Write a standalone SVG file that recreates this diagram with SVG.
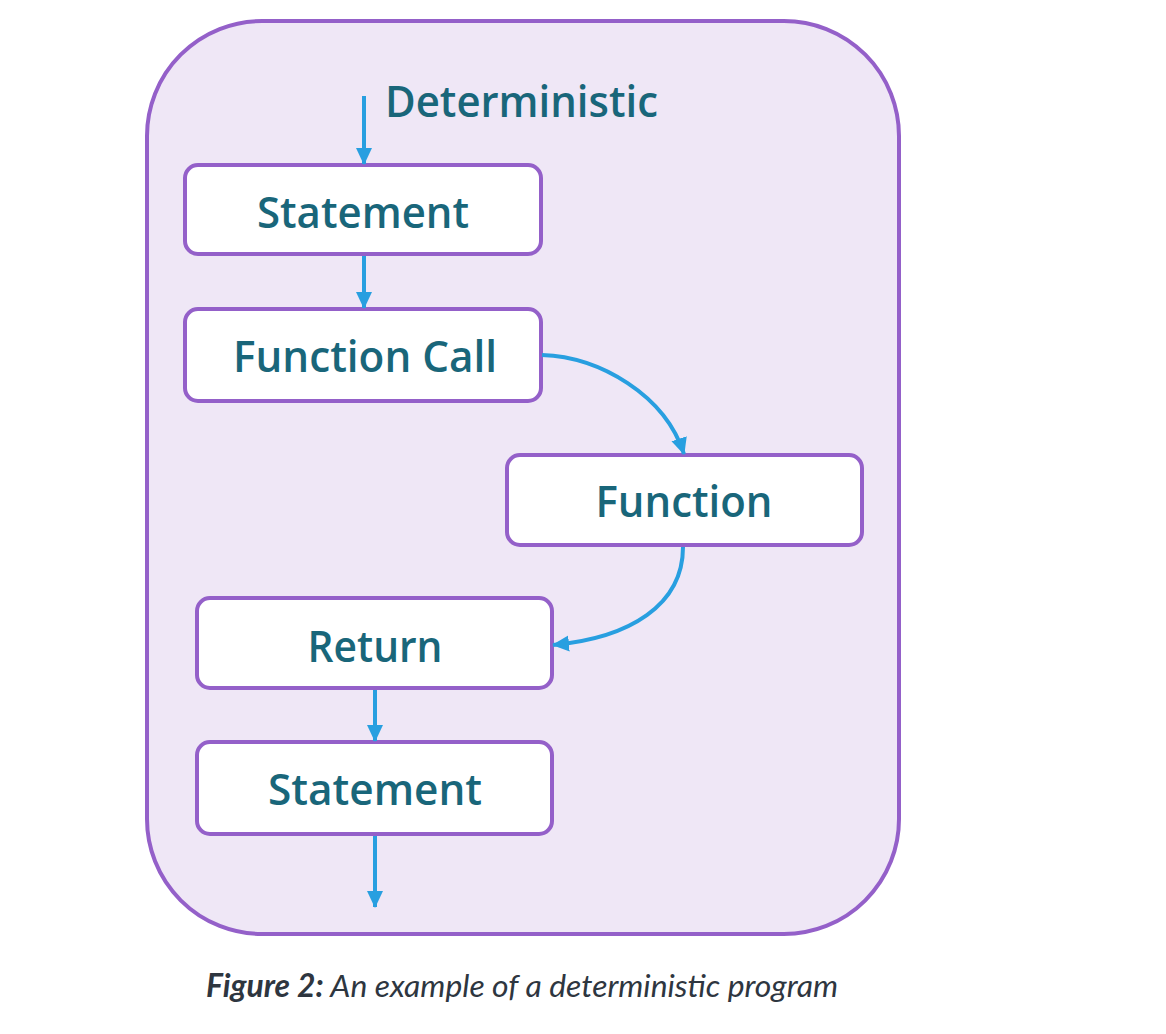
<svg xmlns="http://www.w3.org/2000/svg" width="1166" height="1034" viewBox="0 0 1166 1034">
<defs>
<marker id="ah" markerUnits="userSpaceOnUse" markerWidth="18" markerHeight="18" viewBox="0 0 18 18" refX="16" refY="9" orient="auto">
<path d="M0,1 L17,9 L0,17 Z" fill="#289fe0"/>
</marker>
</defs>
<style>
.node rect{fill:#ffffff;stroke:#9460c9;stroke-width:4}
.lbl{font-family:"Open Sans","Noto Sans",sans-serif;font-size:44px;font-weight:600;fill:#19667a;text-anchor:middle}
.edge{fill:none;stroke:#289fe0;stroke-width:4;marker-end:url(#ah)}
.cap{font-family:Lato,"Open Sans",sans-serif;font-size:31.5px;font-style:italic;fill:#2e3640}
</style>
<rect x="147" y="21" width="752" height="913" rx="115" ry="115" fill="#efe7f6" stroke="#9460c9" stroke-width="4"/>
<text id="title" x="385" y="117" class="lbl" style="text-anchor:start" textLength="273" lengthAdjust="spacingAndGlyphs">Deterministic</text>
<g id="n1" class="node"><rect x="185" y="165" width="356" height="89" rx="13"/><text class="lbl" x="363" y="228" textLength="212" lengthAdjust="spacingAndGlyphs">Statement</text></g>
<g id="n2" class="node"><rect x="185" y="309" width="356" height="92" rx="13"/><text class="lbl" x="365" y="372" textLength="264" lengthAdjust="spacingAndGlyphs">Function Call</text></g>
<g id="n3" class="node"><rect x="507" y="455" width="355" height="90" rx="13"/><text class="lbl" x="684" y="517" textLength="177" lengthAdjust="spacingAndGlyphs">Function</text></g>
<g id="n4" class="node"><rect x="197" y="598" width="355" height="90" rx="13"/><text class="lbl" x="375" y="662" textLength="135" lengthAdjust="spacingAndGlyphs">Return</text></g>
<g id="n5" class="node"><rect x="197" y="742" width="355" height="92" rx="13"/><text class="lbl" x="375" y="805" textLength="214" lengthAdjust="spacingAndGlyphs">Statement</text></g>
<g id="edges">
<path class="edge" d="M364,96 L364,164"/>
<path class="edge" d="M364,256 L364,308"/>
<path class="edge" d="M542,355 C600,357 665,395 684,454"/>
<path class="edge" d="M683,547 C683,605 630,638 553,645"/>
<path class="edge" d="M375,690 L375,741"/>
<path class="edge" d="M375,836 L375,907"/>
</g>
<text id="caption" class="cap" x="206" y="997" textLength="632" lengthAdjust="spacingAndGlyphs"><tspan font-weight="bold">Figure 2:</tspan> An example of a deterministic program</text>
</svg>
